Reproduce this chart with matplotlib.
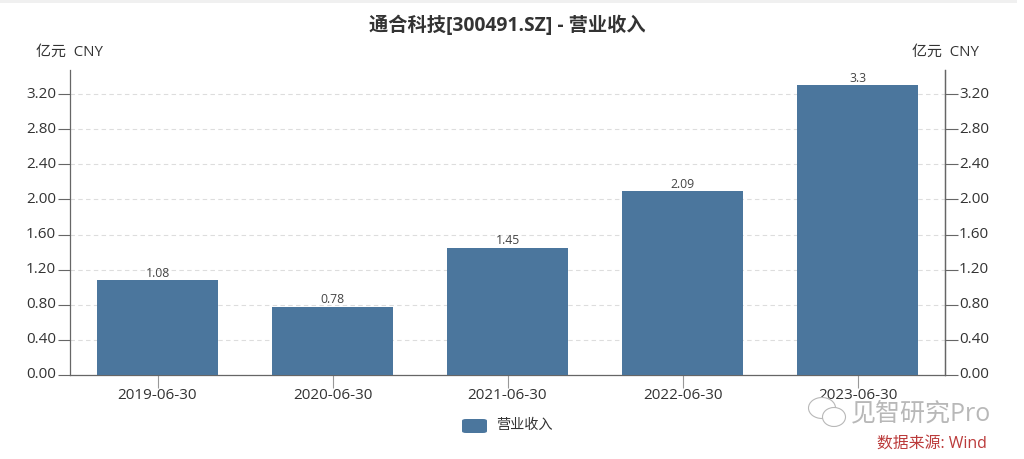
import matplotlib
matplotlib.use('Agg')
import matplotlib.pyplot as plt
from matplotlib.patches import Ellipse, FancyBboxPatch, Rectangle

plt.rcParams['font.family'] = ['Open Sans', 'Noto Sans CJK SC', 'DejaVu Sans']

W, H = 1024, 459

# data
dates = ['2019-06-30', '2020-06-30', '2021-06-30', '2022-06-30', '2023-06-30']
revenue = [1.08, 0.78, 1.45, 2.09, 3.3]
bar_labels = ['1.08', '0.78', '1.45', '2.09', '3.3']
y_ticks = [0.0, 0.4, 0.8, 1.2, 1.6, 2.0, 2.4, 2.8, 3.2]

bar_color = '#4b769d'
text_color = '#333333'
axis_color = '#666666'

fig = plt.figure(figsize=(W / 100, H / 100), dpi=100)
ax = fig.add_axes([70 / W, 1 - 375 / H, 875 / W, 305 / H])

x = range(len(dates))
ax.bar(x, revenue, width=0.69, color=bar_color, zorder=3)
ax.set_xlim(-0.5, 4.5)
ax.set_ylim(0, 305 / 87.8)

for i, v in enumerate(revenue):
    ax.annotate(bar_labels[i], (i, v), xytext=(0, 0.2), textcoords='offset points',
                ha='center', va='bottom', fontsize=8.8, color='#444444', zorder=4)

ax.set_xticks(list(x))
ax.set_xticklabels(dates, fontsize=11, color=text_color)
ax.tick_params(axis='x', length=9, color='#999999', pad=0.3)
ax.set_yticks(y_ticks)
ax.set_yticklabels(['%.2f' % t for t in y_ticks], fontsize=11, color=text_color, va='center')
ax.tick_params(axis='y', length=9, color=axis_color, pad=1, left=True, right=False)
ax.grid(axis='y', color='#dddddd', linestyle=(0, (4, 3)), linewidth=0.8, zorder=0)
ax.spines['top'].set_visible(False)
for s in ['left', 'right', 'bottom']:
    ax.spines[s].set_color(axis_color)
    ax.spines[s].set_linewidth(0.9)

# right axis mirrors the left one
ax2 = ax.twinx()
ax2.set_ylim(ax.get_ylim())
ax2.set_yticks(y_ticks)
ax2.set_yticklabels(['%.2f' % t for t in y_ticks], fontsize=11, color=text_color, va='center')
ax2.tick_params(axis='y', length=9, color=axis_color, pad=1)
for s in ['top', 'left', 'bottom']:
    ax2.spines[s].set_visible(False)
ax2.spines['right'].set_color(axis_color)
ax2.spines['right'].set_linewidth(0.9)


def px_text(px, py, s, **kw):
    fig.text(px / W, 1 - py / H, s, va='center', **kw)


# page strip at the top
fig.patches.append(Rectangle((0, 1 - 2.5 / H), 1017 / W, 2.5 / H, transform=fig.transFigure,
                             color='#f0f0f0', lw=0))

px_text(507, 26, '通合科技[300491.SZ] - 营业收入', ha='center', fontsize=13.85,
        fontweight='bold', color=text_color)
px_text(70, 52, '亿元  CNY', ha='center', fontsize=10.8, color=text_color)
px_text(945, 52, '亿元  CNY', ha='center', fontsize=10.8, color=text_color)

# legend
fig.patches.append(FancyBboxPatch((462 / W, 1 - 433 / H), 25 / W, 14 / H,
                                  boxstyle='round,pad=0,rounding_size=0.004',
                                  transform=fig.transFigure, color=bar_color, lw=0))
px_text(496, 425, '营业收入', ha='left', fontsize=10.2, color=text_color)

# source and watermark
px_text(987, 445, '数据来源: Wind', ha='right', fontsize=11.4, color='#bb3a3a')
px_text(851, 414, '见智研究Pro', ha='left', fontsize=18, color='#b8b8b8')
for cx, cy, w, h in [(822, 408, 27, 21), (834, 417, 23, 19)]:
    fig.patches.append(Ellipse((cx / W, 1 - cy / H), w / W, h / H, transform=fig.transFigure,
                               facecolor='white', edgecolor='#b8b8b8', lw=0.8, zorder=5))

fig.savefig('out.png', dpi=100)
